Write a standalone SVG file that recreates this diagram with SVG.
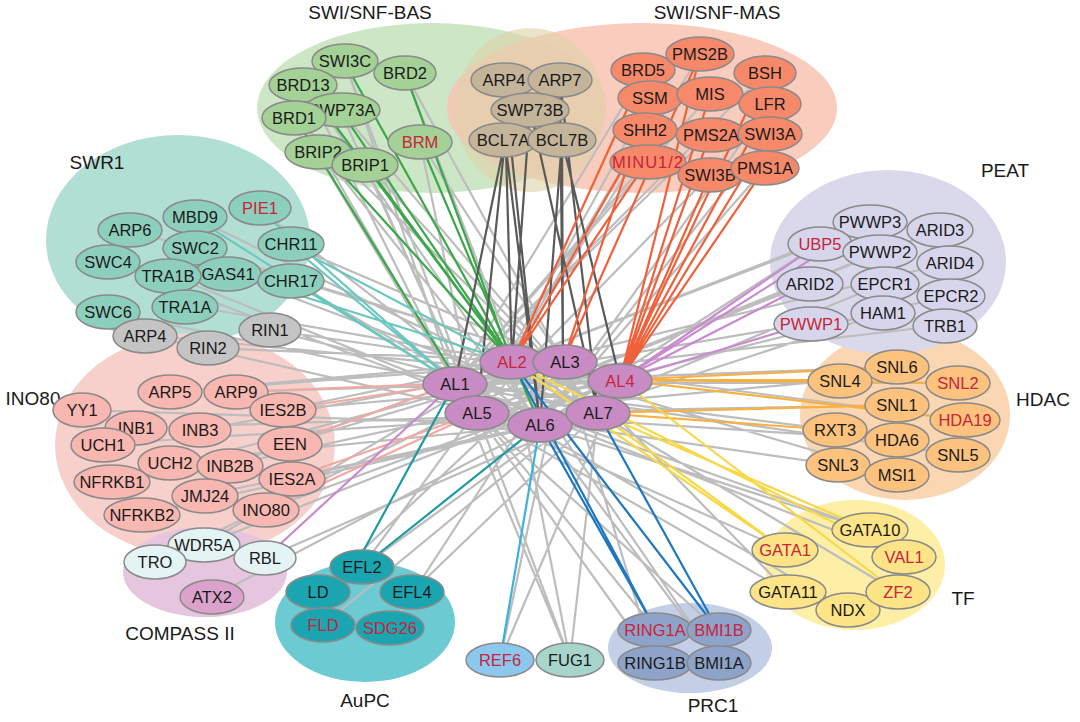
<svg xmlns="http://www.w3.org/2000/svg" width="1080" height="722" viewBox="0 0 1080 722">
<style>
text{font-family:"Liberation Sans",Arial,sans-serif;font-size:16.5px;text-anchor:middle;dominant-baseline:central;fill:#1a1a1a}
.lbl{font-size:19px}
.r{fill:#c8243a}
ellipse.n{stroke:#8a8a8a;stroke-width:1.5}
.e{fill:none;stroke-width:2.2}
.bas{fill:#a3d196}.swp{fill:#c4b49a}.mas{fill:#f7896b}.swr{fill:#8dcfbd}.gry{fill:#c4c4c4}.ino{fill:#f8b7b0}
.cmp{fill:#e4f3f3}.atx{fill:#dba2cb}.aup{fill:#1aa5b0}.ref{fill:#8cc8ee}.fug{fill:#a6d5cc}.prc{fill:#8ea3c9}
.tf{fill:#fde486}.hd{fill:#fcc27e}.pe{fill:#d6d5eb}.al{fill:#c98bc4}
</style>
<rect width="1080" height="722" fill="#fff"/>
<g id="backgrounds">
<ellipse cx="432" cy="108" rx="175" ry="85" fill="#cde6c6"/>
<ellipse cx="642" cy="108" rx="195" ry="85" fill="#f8c3b3" opacity="0.85"/>
<ellipse cx="530" cy="110" rx="75" ry="82" fill="#ddd2a8" opacity="0.6"/>
<ellipse cx="178" cy="240" rx="132" ry="105" fill="#b2dfd4"/>
<ellipse cx="195" cy="445" rx="140" ry="112" fill="#f7d0cb"/>
<ellipse cx="205" cy="572" rx="82" ry="45" fill="#e6c6de"/>
<ellipse cx="365" cy="622" rx="90" ry="60" fill="#6ccad2"/>
<ellipse cx="690" cy="648" rx="82" ry="45" fill="#c3cee7"/>
<ellipse cx="855" cy="565" rx="90" ry="65" fill="#fdf0a6"/>
<ellipse cx="905" cy="415" rx="105" ry="85" fill="#fad6b2"/>
<ellipse cx="888" cy="262" rx="118" ry="92" fill="#dad9ec"/>
</g>
<g id="labels">
<text class="lbl" x="370" y="12">SWI/SNF-BAS</text>
<text class="lbl" x="717" y="12">SWI/SNF-MAS</text>
<text class="lbl" x="97" y="162">SWR1</text>
<text class="lbl" x="1005" y="170">PEAT</text>
<text class="lbl" x="33" y="398">INO80</text>
<text class="lbl" x="1043" y="399">HDAC</text>
<text class="lbl" x="180" y="633">COMPASS II</text>
<text class="lbl" x="963" y="598">TF</text>
<text class="lbl" x="365" y="700">AuPC</text>
<text class="lbl" x="713" y="705">PRC1</text>
</g>
<g id="connectors">
<path class="e" stroke="#bdbdbd" d="M345 63L455 383M345 63L477 413M405 73L563 362M405 73L540 425M305 85L455 383M305 85L540 425M340 110L477 413M340 110L598 413M295 117L455 383M295 117L598 413M420 142L563 362M420 142L477 413M320 150L455 383M320 150L540 425M365 163L477 413M365 163L598 413
M645 70L455 383M700 55L477 413M765 73L455 383M650 98L477 413M710 95L455 383M770 103L540 425M645 130L477 413M710 135L455 383M770 133L540 425M648 160L455 383M710 175L477 413M765 168L540 425
M130 230L563 362M195 218L598 413M260 210L540 425M195 248L620 380M108 262L540 425M228 273L598 413M290 245L563 362M170 275L540 425M108 312L598 413M185 305L620 380M290 280L540 425M145 335L540 425M270 330L598 413M208 348L563 362M145 335L620 380M270 330L620 380
M170 392L563 362M236 392L620 380M82 410L540 425M135 428L598 413M200 430L563 362M283 410L620 380M103 444L598 413M290 443L563 362M170 462L540 425M230 465L620 380M292 478L598 413M112 482L563 362M205 495L540 425M265 510L620 380M140 515L598 413M170 392L512 362M283 410L512 362M290 443L512 362M230 465L512 362
M203 545L512 362M155 562L563 362M265 558L598 413M212 597L540 425M203 545L620 380
M362 567L512 362M318 592L563 362M412 592L598 413M323 625L620 380M390 628L563 362M362 567L620 380
M500 660L563 362M500 660L620 380M570 660L455 383M570 660L512 362M570 660L598 413M570 660L477 413
M656 630L455 383M718 630L477 413M655 663L455 383M718 663L512 362M655 663L563 362M718 663L540 425
M870 530L455 383M785 550L477 413M903 557L455 383M788 592L477 413M848 610L455 383M897 592L512 362M870 530L540 425M788 592L563 362
M897 367L455 383M840 380L477 413M958 383L455 383M897 405L477 413M965 420L512 362M835 430L455 383M897 440L477 413M958 455L455 383M838 465L477 413M897 475L512 362
M870 222L455 383M938 230L477 413M820 243L455 383M880 252L477 413M948 263L455 383M810 283L477 413M885 283L540 425M950 295L477 413M810 323L455 383M883 313L540 425M945 325L455 383M820 243L540 425"/>
<path class="e" stroke="#3aa84a" d="M345 63L512 362M405 73L512 362M305 85L512 362M340 110L512 362M420 142L540 425M320 150L512 362M365 163L512 362M295 117L477 413"/>
<path class="e" stroke="#595959" d="M504 80L512 362M504 80L540 425M560 80L563 362M560 80L598 413M530 108L512 362M530 108L598 413M505 140L455 383M505 140L477 413M505 140L540 425M562 140L563 362M562 140L620 380M562 140L540 425"/>
<path class="e" stroke="#f0603a" d="M645 70L512 362M700 55L620 380M765 73L620 380M650 98L563 362M710 95L620 380M770 103L620 380M645 130L512 362M710 135L620 380M770 133L620 380M648 160L512 362M710 175L620 380M765 168L620 380M700 55L563 362"/>
<path class="e" stroke="#6cc8be" d="M260 210L455 383M290 245L455 383M290 280L455 383M228 273L512 362M195 218L455 383M290 245L512 362"/>
<path class="e" stroke="#f3a9a3" d="M283 410L455 383M290 443L455 383M292 478L477 413M265 510L477 413M236 392L455 383"/>
<path class="e" stroke="#c98ad0" d="M820 243L620 380M810 323L620 380M870 222L620 380M810 283L620 380M265 558L455 383"/>
<path class="e" stroke="#f8b040" d="M840 380L620 380M958 383L620 380M965 420L620 380M897 367L620 380M897 405L598 413M835 430L598 413"/>
<path class="e" stroke="#f8d848" d="M785 550L512 362M903 557L512 362M897 592L620 380M870 530L598 413M785 550L598 413"/>
<path class="e" stroke="#1e78c0" d="M656 630L512 362M718 630L512 362M656 630L540 425M718 630L598 413"/>
<path class="e" stroke="#1d9aa3" d="M362 567L540 425M323 625L455 383"/>
<path class="e" stroke="#3ab2dc" d="M500 660L540 425"/>
</g>
<g id="n-SWI3C"><ellipse class="n bas" cx="345" cy="61" rx="33" ry="17"/><text x="345" y="61">SWI3C</text></g>
<g id="n-BRD2"><ellipse class="n bas" cx="405" cy="73" rx="31" ry="17"/><text x="405" y="73">BRD2</text></g>
<g id="n-BRD13"><ellipse class="n bas" cx="303" cy="85" rx="34" ry="17"/><text x="303" y="85">BRD13</text></g>
<g id="n-SWP73A"><ellipse class="n bas" cx="342" cy="110" rx="38" ry="17"/><text x="342" y="110">SWP73A</text></g>
<g id="n-BRD1"><ellipse class="n bas" cx="294" cy="118" rx="32" ry="17"/><text x="294" y="118">BRD1</text></g>
<g id="n-BRM"><ellipse class="n bas" cx="420" cy="142" rx="32" ry="17"/><text class="r" x="420" y="142">BRM</text></g>
<g id="n-BRIP2"><ellipse class="n bas" cx="318" cy="152" rx="33" ry="17"/><text x="318" y="152">BRIP2</text></g>
<g id="n-BRIP1"><ellipse class="n bas" cx="365" cy="165" rx="33" ry="17"/><text x="365" y="165">BRIP1</text></g>
<g id="n-ARP4a"><ellipse class="n swp" cx="504" cy="80" rx="33" ry="17"/><text x="504" y="80">ARP4</text></g>
<g id="n-ARP7"><ellipse class="n swp" cx="560" cy="80" rx="32" ry="17"/><text x="560" y="80">ARP7</text></g>
<g id="n-SWP73B"><ellipse class="n swp" cx="530" cy="110" rx="39" ry="17"/><text x="530" y="110">SWP73B</text></g>
<g id="n-BCL7A"><ellipse class="n swp" cx="503" cy="140" rx="34" ry="17"/><text x="503" y="140">BCL7A</text></g>
<g id="n-BCL7B"><ellipse class="n swp" cx="562" cy="140" rx="34" ry="17"/><text x="562" y="140">BCL7B</text></g>
<g id="n-BRD5"><ellipse class="n mas" cx="643" cy="70" rx="32" ry="17"/><text x="643" y="70">BRD5</text></g>
<g id="n-PMS2B"><ellipse class="n mas" cx="700" cy="54" rx="34" ry="17"/><text x="700" y="54">PMS2B</text></g>
<g id="n-BSH"><ellipse class="n mas" cx="765" cy="73" rx="31" ry="17"/><text x="765" y="73">BSH</text></g>
<g id="n-SSM"><ellipse class="n mas" cx="650" cy="98" rx="32" ry="17"/><text x="650" y="98">SSM</text></g>
<g id="n-MIS"><ellipse class="n mas" cx="710" cy="94" rx="33" ry="17"/><text x="710" y="94">MIS</text></g>
<g id="n-LFR"><ellipse class="n mas" cx="770" cy="104" rx="31" ry="17"/><text x="770" y="104">LFR</text></g>
<g id="n-SHH2"><ellipse class="n mas" cx="645" cy="130" rx="32" ry="17"/><text x="645" y="130">SHH2</text></g>
<g id="n-PMS2A"><ellipse class="n mas" cx="711" cy="135" rx="35" ry="17"/><text x="711" y="135">PMS2A</text></g>
<g id="n-SWI3A"><ellipse class="n mas" cx="770" cy="134" rx="32" ry="17"/><text x="770" y="134">SWI3A</text></g>
<g id="n-MINU"><ellipse class="n mas" cx="648" cy="162" rx="38" ry="17"/><text class="r" x="648" y="162" letter-spacing="1">MINU1/2</text></g>
<g id="n-SWI3B"><ellipse class="n mas" cx="710" cy="175" rx="32" ry="17"/><text x="710" y="175">SWI3B</text></g>
<g id="n-PMS1A"><ellipse class="n mas" cx="765" cy="168" rx="34" ry="17"/><text x="765" y="168">PMS1A</text></g>
<g id="n-ARP6"><ellipse class="n swr" cx="130" cy="230" rx="32" ry="17"/><text x="130" y="230">ARP6</text></g>
<g id="n-MBD9"><ellipse class="n swr" cx="195" cy="217" rx="32" ry="17"/><text x="195" y="217">MBD9</text></g>
<g id="n-PIE1"><ellipse class="n swr" cx="260" cy="208" rx="31" ry="17"/><text class="r" x="260" y="208">PIE1</text></g>
<g id="n-SWC2"><ellipse class="n swr" cx="195" cy="248" rx="32" ry="17"/><text x="195" y="248">SWC2</text></g>
<g id="n-SWC4"><ellipse class="n swr" cx="108" cy="262" rx="32" ry="17"/><text x="108" y="262">SWC4</text></g>
<g id="n-GAS41"><ellipse class="n swr" cx="228" cy="274" rx="33" ry="17"/><text x="228" y="274">GAS41</text></g>
<g id="n-CHR11"><ellipse class="n swr" cx="291" cy="244" rx="33" ry="17"/><text x="291" y="244">CHR11</text></g>
<g id="n-TRA1B"><ellipse class="n swr" cx="168" cy="276" rx="33" ry="17"/><text x="168" y="276">TRA1B</text></g>
<g id="n-SWC6"><ellipse class="n swr" cx="108" cy="312" rx="32" ry="17"/><text x="108" y="312">SWC6</text></g>
<g id="n-TRA1A"><ellipse class="n swr" cx="185" cy="307" rx="33" ry="17"/><text x="185" y="307">TRA1A</text></g>
<g id="n-CHR17"><ellipse class="n swr" cx="291" cy="281" rx="33" ry="17"/><text x="291" y="281">CHR17</text></g>
<g id="n-ARP4b"><ellipse class="n gry" cx="145" cy="336" rx="32" ry="17"/><text x="145" y="336">ARP4</text></g>
<g id="n-RIN1"><ellipse class="n gry" cx="270" cy="330" rx="31" ry="17"/><text x="270" y="330">RIN1</text></g>
<g id="n-RIN2"><ellipse class="n gry" cx="208" cy="348" rx="31" ry="17"/><text x="208" y="348">RIN2</text></g>
<g id="n-ARP5"><ellipse class="n ino" cx="170" cy="392" rx="32" ry="17"/><text x="170" y="392">ARP5</text></g>
<g id="n-ARP9"><ellipse class="n ino" cx="236" cy="392" rx="32" ry="17"/><text x="236" y="392">ARP9</text></g>
<g id="n-YY1"><ellipse class="n ino" cx="82" cy="410" rx="29" ry="17"/><text x="82" y="410">YY1</text></g>
<g id="n-INB1"><ellipse class="n ino" cx="136" cy="428" rx="31" ry="17"/><text x="136" y="428">INB1</text></g>
<g id="n-INB3"><ellipse class="n ino" cx="200" cy="430" rx="31" ry="17"/><text x="200" y="430">INB3</text></g>
<g id="n-IES2B"><ellipse class="n ino" cx="283" cy="410" rx="33" ry="17"/><text x="283" y="410">IES2B</text></g>
<g id="n-UCH1"><ellipse class="n ino" cx="103" cy="445" rx="32" ry="17"/><text x="103" y="445">UCH1</text></g>
<g id="n-EEN"><ellipse class="n ino" cx="290" cy="444" rx="32" ry="17"/><text x="290" y="444">EEN</text></g>
<g id="n-UCH2"><ellipse class="n ino" cx="170" cy="463" rx="32" ry="17"/><text x="170" y="463">UCH2</text></g>
<g id="n-INB2B"><ellipse class="n ino" cx="230" cy="466" rx="33" ry="17"/><text x="230" y="466">INB2B</text></g>
<g id="n-IES2A"><ellipse class="n ino" cx="292" cy="479" rx="33" ry="17"/><text x="292" y="479">IES2A</text></g>
<g id="n-NFRKB1"><ellipse class="n ino" cx="112" cy="482" rx="38" ry="17"/><text x="112" y="482">NFRKB1</text></g>
<g id="n-JMJ24"><ellipse class="n ino" cx="205" cy="496" rx="33" ry="17"/><text x="205" y="496">JMJ24</text></g>
<g id="n-INO80"><ellipse class="n ino" cx="266" cy="510" rx="33" ry="17"/><text x="266" y="510">INO80</text></g>
<g id="n-NFRKB2"><ellipse class="n ino" cx="142" cy="515" rx="38" ry="17"/><text x="142" y="515">NFRKB2</text></g>
<g id="n-WDR5A"><ellipse class="n cmp" cx="204" cy="545" rx="36" ry="17"/><text x="204" y="545">WDR5A</text></g>
<g id="n-TRO"><ellipse class="n cmp" cx="155" cy="562" rx="31" ry="17"/><text x="155" y="562">TRO</text></g>
<g id="n-RBL"><ellipse class="n cmp" cx="265" cy="558" rx="31" ry="17"/><text x="265" y="558">RBL</text></g>
<g id="n-ATX2"><ellipse class="n atx" cx="212" cy="597" rx="32" ry="17"/><text x="212" y="597">ATX2</text></g>
<g id="n-EFL2"><ellipse class="n aup" cx="362" cy="567" rx="32" ry="17"/><text x="362" y="567">EFL2</text></g>
<g id="n-LD"><ellipse class="n aup" cx="318" cy="592" rx="32" ry="17"/><text x="318" y="592">LD</text></g>
<g id="n-EFL4"><ellipse class="n aup" cx="412" cy="592" rx="32" ry="17"/><text x="412" y="592">EFL4</text></g>
<g id="n-FLD"><ellipse class="n aup" cx="323" cy="625" rx="32" ry="17"/><text class="r" x="323" y="625">FLD</text></g>
<g id="n-SDG26"><ellipse class="n aup" cx="390" cy="628" rx="34" ry="17"/><text class="r" x="390" y="628">SDG26</text></g>
<g id="n-REF6"><ellipse class="n ref" cx="500" cy="660" rx="34" ry="17"/><text class="r" x="500" y="660">REF6</text></g>
<g id="n-FUG1"><ellipse class="n fug" cx="570" cy="660" rx="34" ry="17"/><text x="570" y="660">FUG1</text></g>
<g id="n-RING1A"><ellipse class="n prc" cx="655" cy="630" rx="37" ry="17"/><text class="r" x="655" y="630">RING1A</text></g>
<g id="n-BMI1B"><ellipse class="n prc" cx="719" cy="630" rx="32" ry="17"/><text class="r" x="719" y="630">BMI1B</text></g>
<g id="n-RING1B"><ellipse class="n prc" cx="655" cy="663" rx="37" ry="17"/><text x="655" y="663">RING1B</text></g>
<g id="n-BMI1A"><ellipse class="n prc" cx="719" cy="663" rx="32" ry="17"/><text x="719" y="663">BMI1A</text></g>
<g id="n-GATA10"><ellipse class="n tf" cx="870" cy="530" rx="38" ry="17"/><text x="870" y="530">GATA10</text></g>
<g id="n-GATA1"><ellipse class="n tf" cx="785" cy="550" rx="33" ry="17"/><text class="r" x="785" y="550">GATA1</text></g>
<g id="n-VAL1"><ellipse class="n tf" cx="904" cy="557" rx="32" ry="17"/><text class="r" x="904" y="557">VAL1</text></g>
<g id="n-GATA11"><ellipse class="n tf" cx="788" cy="592" rx="38" ry="17"/><text x="788" y="592">GATA11</text></g>
<g id="n-NDX"><ellipse class="n tf" cx="848" cy="610" rx="32" ry="17"/><text x="848" y="610">NDX</text></g>
<g id="n-ZF2"><ellipse class="n tf" cx="898" cy="592" rx="32" ry="17"/><text class="r" x="898" y="592">ZF2</text></g>
<g id="n-SNL6"><ellipse class="n hd" cx="897" cy="367" rx="32" ry="17"/><text x="897" y="367">SNL6</text></g>
<g id="n-SNL4"><ellipse class="n hd" cx="840" cy="381" rx="32" ry="17"/><text x="840" y="381">SNL4</text></g>
<g id="n-SNL2"><ellipse class="n hd" cx="958" cy="383" rx="32" ry="17"/><text class="r" x="958" y="383">SNL2</text></g>
<g id="n-SNL1"><ellipse class="n hd" cx="897" cy="405" rx="32" ry="17"/><text x="897" y="405">SNL1</text></g>
<g id="n-HDA19"><ellipse class="n hd" cx="965" cy="420" rx="35" ry="17"/><text class="r" x="965" y="420">HDA19</text></g>
<g id="n-RXT3"><ellipse class="n hd" cx="835" cy="430" rx="32" ry="17"/><text x="835" y="430">RXT3</text></g>
<g id="n-HDA6"><ellipse class="n hd" cx="897" cy="440" rx="32" ry="17"/><text x="897" y="440">HDA6</text></g>
<g id="n-SNL5"><ellipse class="n hd" cx="958" cy="455" rx="32" ry="17"/><text x="958" y="455">SNL5</text></g>
<g id="n-SNL3"><ellipse class="n hd" cx="838" cy="465" rx="32" ry="17"/><text x="838" y="465">SNL3</text></g>
<g id="n-MSI1"><ellipse class="n hd" cx="897" cy="475" rx="32" ry="17"/><text x="897" y="475">MSI1</text></g>
<g id="n-PWWP3"><ellipse class="n pe" cx="870" cy="222" rx="37" ry="17"/><text x="870" y="222">PWWP3</text></g>
<g id="n-ARID3"><ellipse class="n pe" cx="940" cy="230" rx="33" ry="17"/><text x="940" y="230">ARID3</text></g>
<g id="n-UBP5"><ellipse class="n pe" cx="820" cy="244" rx="32" ry="17"/><text class="r" x="820" y="244">UBP5</text></g>
<g id="n-PWWP2"><ellipse class="n pe" cx="880" cy="252" rx="37" ry="17"/><text x="880" y="252">PWWP2</text></g>
<g id="n-ARID4"><ellipse class="n pe" cx="950" cy="263" rx="33" ry="17"/><text x="950" y="263">ARID4</text></g>
<g id="n-ARID2"><ellipse class="n pe" cx="810" cy="284" rx="33" ry="17"/><text x="810" y="284">ARID2</text></g>
<g id="n-EPCR1"><ellipse class="n pe" cx="885" cy="284" rx="34" ry="17"/><text x="885" y="284">EPCR1</text></g>
<g id="n-EPCR2"><ellipse class="n pe" cx="951" cy="296" rx="34" ry="17"/><text x="951" y="296">EPCR2</text></g>
<g id="n-PWWP1"><ellipse class="n pe" cx="811" cy="324" rx="37" ry="17"/><text class="r" x="811" y="324">PWWP1</text></g>
<g id="n-HAM1"><ellipse class="n pe" cx="883" cy="313" rx="32" ry="17"/><text x="883" y="313">HAM1</text></g>
<g id="n-TRB1"><ellipse class="n pe" cx="945" cy="326" rx="32" ry="17"/><text x="945" y="326">TRB1</text></g>
<g id="n-AL1"><ellipse class="n al" cx="455" cy="384" rx="32" ry="17"/><text x="455" y="384">AL1</text></g>
<g id="n-AL2"><ellipse class="n al" cx="512" cy="362" rx="32" ry="17"/><text class="r" x="512" y="362">AL2</text></g>
<g id="n-AL3"><ellipse class="n al" cx="565" cy="362" rx="32" ry="17"/><text x="565" y="362">AL3</text></g>
<g id="n-AL4"><ellipse class="n al" cx="620" cy="381" rx="32" ry="17"/><text class="r" x="620" y="381">AL4</text></g>
<g id="n-AL5"><ellipse class="n al" cx="477" cy="413" rx="32" ry="17"/><text x="477" y="413">AL5</text></g>
<g id="n-AL6"><ellipse class="n al" cx="540" cy="425" rx="32" ry="17"/><text x="540" y="425">AL6</text></g>
<g id="n-AL7"><ellipse class="n al" cx="598" cy="413" rx="32" ry="17"/><text x="598" y="413">AL7</text></g>
</svg>
